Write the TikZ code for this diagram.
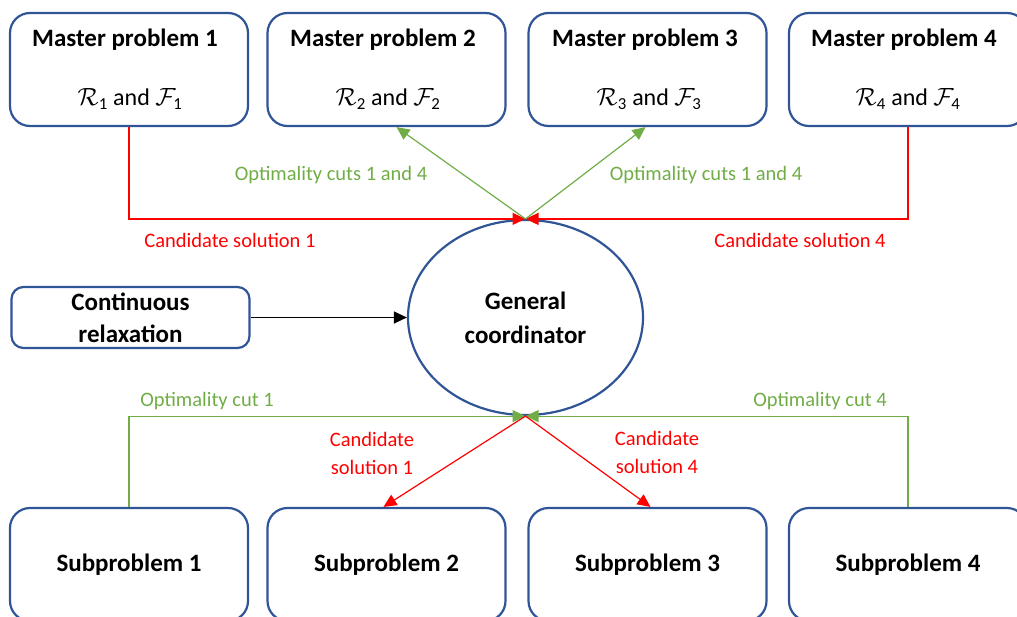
\documentclass[tikz,border=0pt]{standalone}
\usepackage{amsmath}
\usepackage{fontspec}
\setmainfont{Carlito}
\usetikzlibrary{arrows.meta,shapes.geometric}
\definecolor{boxblue}{HTML}{2F5597}
\definecolor{cutgreen}{HTML}{70AD47}
\definecolor{candred}{HTML}{FF0000}
\tikzset{
  pbox/.style={draw=boxblue, line width=2.2pt, rounded corners=20pt, minimum width=238pt, minimum height=113pt, inner sep=0pt, font=\fontsize{25}{30}\selectfont\bfseries, align=center},
  lbl/.style={font=\fontsize{20.5}{28}\selectfont, inner sep=0pt, align=center},
  redl/.style={lbl, text=candred},
  greenl/.style={lbl, text=cutgreen},
  redarr/.style={draw=candred, line width=1.2pt, -{Triangle[length=13pt,width=12pt]}},
  greenarr/.style={draw=cutgreen, line width=1.2pt, -{Triangle[length=13pt,width=12pt]}},
  mathl/.style={lbl, font=\fontsize{24}{28}\selectfont},
}
\begin{document}
\begin{tikzpicture}[x=1pt,y=-1pt]
\useasboundingbox (0,0) rectangle (1017,616);
% master problems
\node[pbox] (m1) at (129,69.5) {};
\node[pbox] (m2) at (386.5,69.5) {};
\node[pbox] (m3) at (647.5,69.5) {};
\node[pbox] (m4) at (908,69.5) {};
\node[pbox, draw=none] (m1t) at (125,40) {Master problem 1};
\node[pbox, draw=none] (m2t) at (383,40) {Master problem 2};
\node[pbox, draw=none] (m3t) at (645,40) {Master problem 3};
\node[pbox, draw=none] (m4t) at (904,40) {Master problem 4};
\node[mathl] (m1m) at (130,99) {$\mathcal{R}_{\text{1}}$ and $\mathcal{F}_{\text{1}}$};
\node[mathl] (m2m) at (388,99) {$\mathcal{R}_{\text{2}}$ and $\mathcal{F}_{\text{2}}$};
\node[mathl] (m3m) at (649,99) {$\mathcal{R}_{\text{3}}$ and $\mathcal{F}_{\text{3}}$};
\node[mathl] (m4m) at (908,99) {$\mathcal{R}_{\text{4}}$ and $\mathcal{F}_{\text{4}}$};
% coordinator
\node[draw=boxblue, line width=2.2pt, ellipse, minimum width=235pt, minimum height=195pt, inner sep=0pt, font=\fontsize{25}{34}\selectfont\bfseries, align=center] (gc) at (525.5,317.5) {General\\coordinator};
% continuous relaxation
\node[pbox, minimum height=61pt, rounded corners=12pt, font=\fontsize{25}{32}\selectfont\bfseries] (cr) at (130.5,317.5) {Continuous\\relaxation};
% subproblems
\node[pbox] (s1) at (129,564.5) {Subproblem 1};
\node[pbox] (s2) at (386.5,564.5) {Subproblem 2};
\node[pbox] (s3) at (647.5,564.5) {Subproblem 3};
\node[pbox] (s4) at (908,564.5) {Subproblem 4};
% junction coordinates
\coordinate (jt) at (gc.north);
\coordinate (jb) at (gc.south);
% top connectors
\draw[redarr] (m1.south) |- (jt);
\draw[redarr] (m4.south) |- (jt);
\draw[greenarr] (jt) -- ([xshift=10pt]m2.south);
\draw[greenarr] (jt) -- ([xshift=-2pt]m3.south);
\node[redl] (c1) at (230,240) {Candidate solution 1};
\node[redl] (c4) at (800,240) {Candidate solution 4};
\node[greenl] (o1) at (331,175) {Optimality cuts 1 and 4};
\node[greenl] (o4) at (706,175) {Optimality cuts 1 and 4};
% continuous relaxation arrow
\draw[line width=1.2pt, -{Triangle[length=13pt,width=12pt]}] (cr.east) -- (gc.west);
% bottom connectors
\draw[greenarr] (s1.north) |- (jb);
\draw[greenarr] (s4.north) |- (jb);
\draw[redarr] (jb) -- ([xshift=-3pt]s2.north);
\draw[redarr] (jb) -- ([xshift=3pt]s3.north);
\node[greenl] (g1) at (207,401) {Optimality cut 1};
\node[greenl] (g4) at (820,401) {Optimality cut 4};
\node[redl] (c1b) at (372,453) {Candidate\\solution 1};
\node[redl] (c4b) at (657,452) {Candidate\\solution 4};
\end{tikzpicture}
\end{document}
